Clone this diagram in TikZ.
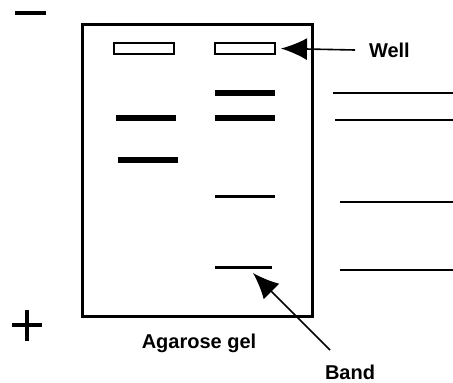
\documentclass[tikz,border=0pt]{standalone}
\usepackage{fontspec}
\setmainfont{Liberation Sans}
\usetikzlibrary{arrows.meta,positioning}

\begin{document}
\begin{tikzpicture}
  [x=1pt,y=-1pt,every node/.style={inner sep=0pt,outer sep=0pt}]
\tikzset{%
gel/.style={draw,line width=3pt,minimum width=230pt,minimum height=292pt},
well/.style={draw,line width=2pt,minimum width=60pt,minimum height=11pt},
thickband/.style={fill,minimum width=60pt,minimum height=6pt},
thinband/.style={fill,minimum width=60pt,minimum height=3pt},
label/.style={font=\bfseries\fontsize{20}{24}\selectfont},
pointer/.style={line width=1.6pt,-{Latex[length=26pt,width=22pt]}},
marker/.style={line width=1.5pt}
}
\useasboundingbox (0,0) rectangle (453,383);
  % gel and wells
  \node[gel] (gel) at (197,170) {};
  \node[well] (well1) at (144,48.5) {};
  \node[well] (well2) at (245,48.5) {};
  % bands
  \node[thickband] (band1) at (245,93) {};
  \node[thickband] (band2) at (245,118) {};
  \node[thinband] (band3) at (245,196) {};
  \node[thinband, minimum width=57pt] (band4) at (243.5,267) {};
  \node[thickband] (band5) at (145.5,118) {};
  \node[thickband] (band6) at (147.5,160) {};
  % labels
  \node[label,anchor=west] (welllabel) at (369,50) {Well};
  \node[label] (gellabel) at (199,343) {Agarose gel};
  \node[label] (bandlabel) at (350,372) {Band};
  \coordinate (welltail) at (355,50);
  \coordinate (bandtail) at (330,350);
  \coordinate (bandtip) at (253,273);
  \draw[pointer] (welltail) -- ([xshift=6pt]well2.east);
  \draw[pointer] (bandtail) -- (bandtip);
  % lines to the right of the gel
  \foreach \y/\x in {93/333,120/335,202/340,270/340}
    \draw[marker] (\x,\y) -- (453,\y);
  % electrodes
  \draw[line width=3.5pt] (15,13) -- (46,13);
  \draw[line width=3.5pt] (12,325) -- (42,325) (27,310) -- (27,341);
\end{tikzpicture}
\end{document}
